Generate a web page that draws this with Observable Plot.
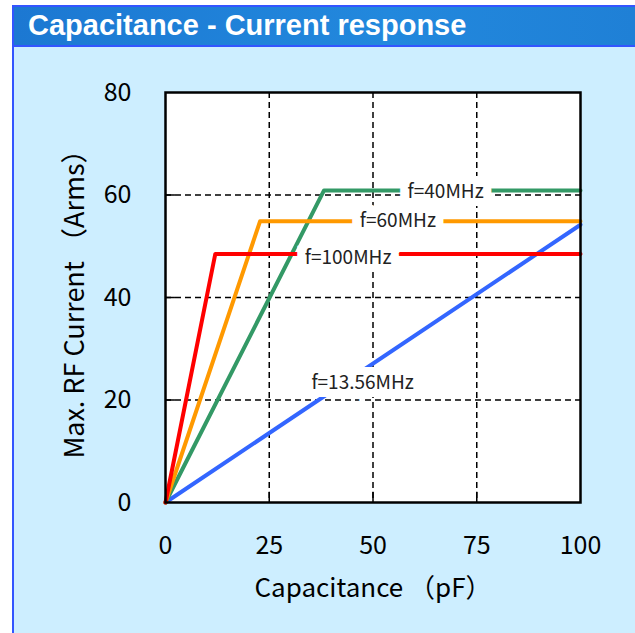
<!DOCTYPE html>
<html>
<head>
<meta charset="utf-8">
<script src="https://cdn.jsdelivr.net/npm/d3@7"></script>
<script src="https://cdn.jsdelivr.net/npm/@observablehq/plot@0.6"></script>
<style>
  html, body { margin: 0; padding: 0; background: #fff; }
  #page { position: relative; width: 635px; height: 633px; overflow: hidden; }
  #panel { position: absolute; left: 12px; top: 5px; width: 623px; height: 628px;
           background: #cdeeff; border-left: 2px solid #3355ff; border-top: 2px solid #3355ff; box-sizing: border-box; }
  #header { position: absolute; left: 0; top: 0; width: 100%; height: 38px;
            background: linear-gradient(90deg, #1c78d2 0%, #2288dd 60%, #1f80d6 100%);
            border-bottom: 2px solid #3355ff; box-sizing: content-box; }
  #header span { position: absolute; left: 14px; top: 2px; color: #fff;
                 font: bold 29px "Liberation Sans", Arial, sans-serif; }
  #chart { position: absolute; left: 0; top: 0; }
</style>
</head>
<body>
<div id="page">
  <div id="panel"><div id="header"><span>Capacitance - Current response</span></div></div>
  <div id="chart"></div>
</div>
<script>
const title = "Capacitance - Current response";
const xLabel = "Capacitance （pF）";
const yLabel = "Max. RF Current （Arms）";
const xTicks = [0, 25, 50, 75, 100];
const yTicks = [0, 20, 40, 60, 80];

const series = ["f=13.56MHz", "f=40MHz", "f=60MHz", "f=100MHz"];
const colors = ["#3366ff", "#339966", "#ff9900", "#ff0000"];
// breakpoint capacitance (pF) and saturation current (Arms)
const capacitance = [
  [0, 100],
  [0, 38.2, 100],
  [0, 22.8, 100],
  [0, 12.0, 100]
];
const current = [
  [0, 54.2],
  [0, 60.9, 60.9],
  [0, 54.9, 54.9],
  [0, 48.5, 48.5]
];
// label anchor positions (data units)
const labelX = [47.5, 67.5, 56, 44];
const labelY = [23.3, 60.6, 54.9, 47.8];

const rows = [];
series.forEach((s, i) => capacitance[i].forEach((c, j) => rows.push({series: s, x: c, y: current[i][j]})));
const labels = series.map((s, i) => ({series: s, x: labelX[i], y: labelY[i]}));

const font = "'Noto Sans CJK JP', 'DejaVu Sans', sans-serif";

const plot = Plot.plot({
  width: 635,
  height: 633,
  marginLeft: 165,
  marginRight: 55,
  marginTop: 92,
  marginBottom: 131,
  style: {background: "transparent", fontFamily: font, color: "#000"},
  x: {domain: [0, 100], ticks: xTicks, label: null},
  y: {domain: [0, 80], ticks: yTicks, label: null},
  color: {domain: series, range: colors},
  marks: [
    Plot.frame({fill: "white"}),
    Plot.gridX(xTicks.slice(1, -1), {stroke: "#000", strokeOpacity: 1, strokeDasharray: "6,4", strokeWidth: 1.5}),
    Plot.gridY(yTicks.slice(1, -1), {stroke: "#000", strokeOpacity: 1, strokeDasharray: "6,4", strokeWidth: 1.5}),
    Plot.ruleX(xTicks.slice(1, -1), {x: d => d, y1: 0, y2: 2, stroke: "#000", strokeWidth: 1.5}),
    Plot.ruleY(yTicks.slice(1, -1), {y: d => d, x1: 0, x2: 2.4, stroke: "#000", strokeWidth: 1.5}),
    Plot.line(rows, {x: "x", y: "y", z: "series", stroke: "series", strokeWidth: 4}),
    Plot.text(labels, {x: "x", y: "y", text: "series", fontSize: 19, fill: "#222",
      stroke: "white", strokeWidth: 16, strokeLinejoin: "miter", paintOrder: "stroke"}),
    Plot.frame({stroke: "#000", strokeWidth: 2.5}),
    Plot.axisX(xTicks, {tickSize: 0, tickPadding: 34, fontSize: 25, anchor: "bottom"}),
    Plot.axisY(yTicks, {tickSize: 0, tickPadding: 34, fontSize: 25, anchor: "left"}),
    Plot.text([xLabel], {frameAnchor: "bottom", dy: 94, fontSize: 26}),
    Plot.text([yLabel], {frameAnchor: "left", dx: -90, rotate: -90, textAnchor: "middle", fontSize: 27})
  ]
});
document.getElementById("chart").appendChild(plot);
</script>
</body>
</html>
